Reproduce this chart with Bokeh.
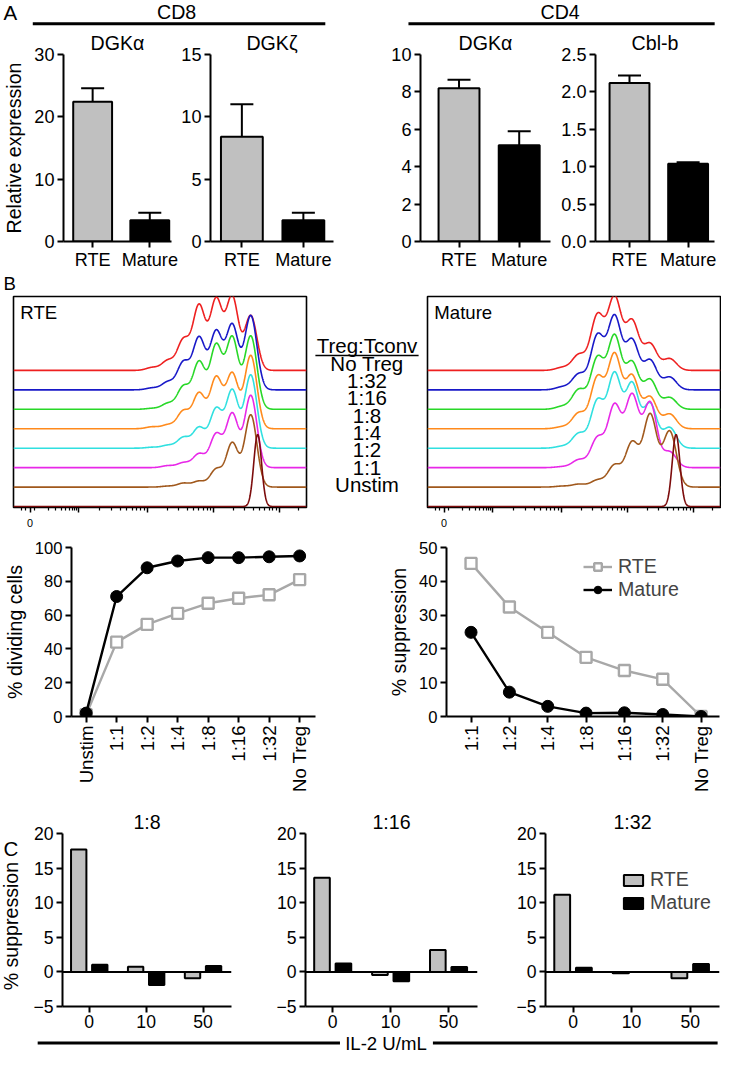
import numpy as np
from bokeh.plotting import figure
from bokeh.layouts import column, row
from bokeh.models import (Range1d, FixedTicker, ColumnDataSource, Whisker, TeeHead,
                          Legend, LegendItem, Span, NumeralTickFormatter)
from bokeh.embed import file_html
from bokeh.resources import INLINE
from bokeh.core.properties import value

# ------------------------------------------------------------------ data
groups = ["RTE", "Mature"]
a_cells = ["CD8", "CD4"]
a_titles = ["DGKα", "DGKζ", "DGKα", "Cbl-b"]
a_mean = [[22.4, 3.4], [8.4, 1.7], [8.2, 5.15], [2.12, 1.04]]
a_sem = [[2.2, 1.2], [2.6, 0.6], [0.45, 0.75], [0.1, 0.02]]
a_yticks = [[0, 10, 20, 30], [0, 5, 10, 15], [0, 2, 4, 6, 8, 10],
            [0.0, 0.5, 1.0, 1.5, 2.0, 2.5]]

hist_rows = ["No Treg", "1:32", "1:16", "1:8", "1:4", "1:2", "1:1", "Unstim"]
hist_header = "Treg:Tconv"
# CFSE division peaks: position (channel) of each division and peak height per row
rte_div_pos = [243, 224, 207.5, 190, 174, 158, 142]
rte_peaks = [
    [56, 75, 72, 66, 31, 10, 3],
    [76, 66, 59, 53, 28, 8, 2],
    [75, 73, 65, 48, 23, 6, 1],
    [75, 56, 52, 36, 18, 4, 2],
    [75, 59, 40, 21, 11, 3, 1],
    [74, 55, 34, 14, 5, 2, 0],
    [74, 45, 18, 6, 4, 1, 0],
]
rte_unstim = [250, 74]
mat_div_pos = [248, 228, 209.5, 191.5, 174, 155, 138]
mat_peaks = [
    [12, 27, 50, 74, 56, 16, 3],
    [13, 30, 50, 74, 55, 16, 3],
    [12, 30, 47, 74, 52, 20, 3],
    [15, 32, 53, 75, 52, 16, 2],
    [21, 45, 65, 75, 48, 15, 2],
    [16, 66, 73, 63, 30, 8, 1],
    [57, 74, 45, 22, 7, 3, 1],
]
mat_unstim = [254.5, 74]

div_ratios = ["Unstim", "1:1", "1:2", "1:4", "1:8", "1:16", "1:32", "No Treg"]
div_rte = [1, 44, 54.5, 61, 67, 70, 72, 81]
div_mature = [2, 71, 88, 92, 94, 94, 94.5, 95]

sup_ratios = ["1:1", "1:2", "1:4", "1:8", "1:16", "1:32", "No Treg"]
sup_rte = [45.3, 32.4, 24.9, 17.5, 13.6, 11.0, 0]
sup_mature = [24.9, 7.2, 3.0, 1.0, 1.1, 0.6, 0]

il2 = ["0", "10", "50"]
il2_title = "IL-2 U/mL"
c_titles = ["1:8", "1:16", "1:32"]
c_rte = [[17.7, 0.75, -0.9], [13.6, -0.45, 3.15], [11.15, -0.2, -0.9]]
c_mature = [[1.05, -1.9, 0.85], [1.2, -1.35, 0.7], [0.6, 0.0, 1.15]]

# ------------------------------------------------------------------ style
FONT = "Liberation Sans"
S = 0.978
GRAY = "#c0c0c0"
LGRAY = "#a8a8a8"
hist_colors = ["#ee2020", "#1818c8", "#28d828", "#ff8a1c", "#30e0e0",
               "#e828e8", "#a0581c", "#7c0c0c"]


def s(v):
    return int(round(v * S))


def fs(v):
    return f"{v * S:.1f}px"


def mkfig(w, h, xr, yr, bl, br, bt, bb, **kw):
    p = figure(width=s(w), height=s(h), x_range=xr, y_range=yr,
               output_backend="svg", toolbar_location=None,
               min_border_left=s(bl), min_border_right=s(br),
               min_border_top=s(bt), min_border_bottom=s(bb), **kw)
    p.grid.visible = False
    p.outline_line_color = None
    return p


def blank(w, h):
    p = figure(width=s(w), height=s(h), x_range=Range1d(0, w), y_range=Range1d(h, 0),
               output_backend="svg", toolbar_location=None,
               x_axis_location=None, y_axis_location=None,
               min_border_left=0, min_border_right=0, min_border_top=0, min_border_bottom=0)
    p.outline_line_color = None
    p.grid.visible = False
    return p


def txt(p, x, y, t, size, align="left", baseline="middle", angle=0.0):
    p.text(x=[x], y=[y], text=[t], text_font=value(FONT), text_font_size=fs(size),
           text_align=align, text_baseline=baseline, angle=angle, text_color="black")


def style_axes(p, tick_fs, lw=2.0):
    for ax in p.axis:
        ax.axis_line_width = lw
        ax.axis_line_color = "black"
        ax.major_tick_line_width = lw
        ax.major_tick_line_color = "black"
        ax.major_tick_in = 0
        ax.major_tick_out = s(6)
        ax.minor_tick_line_color = None
        ax.major_label_text_font = FONT
        ax.major_label_text_font_size = fs(tick_fs)
        ax.major_label_text_color = "black"
        ax.major_label_standoff = s(3)
        ax.axis_label_text_font = FONT
        ax.axis_label_text_font_style = "normal"
        ax.axis_label_text_color = "black"
        ax.axis_label_text_font_size = fs(20)
        ax.axis_label_standoff = s(6)


def set_title(p, t, size=20):
    p.title.text = t
    p.title.align = "center"
    p.title.text_font = FONT
    p.title.text_font_size = fs(size)
    p.title.text_font_style = "normal"
    p.title.text_color = "black"
    p.title.standoff = 1


# ------------------------------------------------------------------ header A
hdrA = blank(738, 30)
txt(hdrA, 3, 12, "A", 21)
txt(hdrA, 180, 12, a_cells[0], 20, align="center")
txt(hdrA, 572, 12, a_cells[1], 20, align="center")
hdrA.segment(x0=[33, 417], y0=[24, 24], x1=[332, 730], y1=[24, 24],
             line_color="black", line_width=3)

# ------------------------------------------------------------------ panel A
a_geom = [(182, 55, 7, 0.51, 0.38), (188, 30, 30, 0.51, 0.49),
          (200, 59, 8, 0.64, 0.52), (168, 33, 8, 0.58, 0.45)]
a_figs = []
for k in range(4):
    w, bl, br, padl, padr = a_geom[k]
    xs = list(range(len(groups)))
    p = mkfig(w, 248, Range1d(-padl, xs[-1] + padr), Range1d(0, a_yticks[k][-1]),
              bl, br, 24, 27)
    p.vbar(x=xs, top=a_mean[k], width=0.68, bottom=0, fill_color=[GRAY, "black"],
           line_color="black", line_width=2)
    src = ColumnDataSource(dict(x=xs, top=a_mean[k],
                                upper=[m + e for m, e in zip(a_mean[k], a_sem[k])]))
    p.add_layout(Whisker(source=src, base="x", lower="top", upper="upper",
                         upper_head=TeeHead(size=s(24), line_width=2, line_color="black"),
                         lower_head=None, line_width=2, line_color="black"))
    style_axes(p, 18.5)
    p.xaxis.major_label_standoff = 2
    p.xaxis.ticker = FixedTicker(ticks=xs)
    p.xaxis.major_label_overrides = {i: g for i, g in enumerate(groups)}
    p.yaxis.ticker = FixedTicker(ticks=a_yticks[k])
    if k == 3:
        p.yaxis.formatter = NumeralTickFormatter(format="0.0")
    if k == 0:
        p.yaxis.axis_label = "Relative expression"
    set_title(p, a_titles[k])
    a_figs.append(p)

# ------------------------------------------------------------------ header B
hdrB = blank(738, 22)
txt(hdrB, 3, 11, "B", 19)

# ------------------------------------------------------------------ panel B histograms
HB_H, HB_BT, HB_BB = 242, 2, 25
H_Y0, H_Y1 = -1, 216
ROW_STEP = 20
hist_major = [17, 67, 137, 205, 272]
hist_minor = [8.7, 12, 22]
for a, b in [(22, 67), (67, 137), (137, 205), (205, 272)]:
    hist_minor += [a + (b - a) * np.log10(k) for k in range(2, 10)]
hist_minor += [272 + 67 * np.log10(2)]


def hist_fig(w, bl, br, pos, peaks, unstim, sigma, sigma_u, label):
    p = mkfig(w, HB_H, Range1d(0, 300), Range1d(H_Y0, H_Y1), bl, br, HB_BT, HB_BB,
              y_axis_location=None)
    p.outline_line_color = "black"
    p.outline_line_width = 1.6
    xg = np.linspace(0, 300, 1201)
    n = len(hist_rows)
    for i in range(n):
        off = ROW_STEP * (n - 1 - i)
        if i < len(peaks):
            y = off + sum(h * np.exp(-0.5 * ((xg - c) / sigma) ** 2)
                          for h, c in zip(peaks[i], pos))
        else:
            y = off + unstim[1] * np.exp(-0.5 * ((xg - unstim[0]) / sigma_u) ** 2)
        p.line(xg, y, line_color=hist_colors[i], line_width=1.6)
    txt(p, 7, 200, label, 19)
    ax = p.xaxis[0]
    ax.ticker = FixedTicker(ticks=hist_major, minor_ticks=hist_minor)
    ax.major_label_overrides = {t: ("0" if t == hist_major[0] else "") for t in hist_major}
    ax.axis_line_color = None
    ax.major_tick_in = 0
    ax.minor_tick_in = 0
    ax.major_tick_out = s(5)
    ax.minor_tick_out = s(3)
    ax.major_tick_line_width = 1.5
    ax.minor_tick_line_width = 1.2
    ax.major_tick_line_color = "black"
    ax.minor_tick_line_color = "black"
    ax.major_label_text_font = FONT
    ax.major_label_text_font_size = fs(11)
    ax.major_label_text_color = "black"
    ax.major_label_standoff = s(6)
    return p


histL = hist_fig(318, 13, 5, rte_div_pos, rte_peaks, rte_unstim, 6.2, 4.0, groups[0])
histR = hist_fig(306, 5, 1, mat_div_pos, mat_peaks, mat_unstim, 6.8, 4.0, groups[1])

# middle legend column, same vertical scale as the histograms
fh = s(HB_H)
fbt, fbb = s(HB_BT), s(HB_BB)
kpx = (H_Y1 - H_Y0) / (fh - fbt - fbb)
mid = figure(width=s(114), height=fh, x_range=Range1d(0, 114),
             y_range=Range1d(H_Y0 - fbb * kpx, H_Y1 + fbt * kpx),
             output_backend="svg", toolbar_location=None,
             x_axis_location=None, y_axis_location=None,
             min_border_left=0, min_border_right=0, min_border_top=0, min_border_bottom=0)
mid.outline_line_color = None
mid.grid.visible = False
n = len(hist_rows)
txt(mid, 57, ROW_STEP * n + 1, hist_header, 21, align="center")
mid.segment(x0=[4], y0=[ROW_STEP * n - 10], x1=[110], y1=[ROW_STEP * n - 10],
            line_color="black", line_width=1.5)
for i, lab in enumerate(hist_rows):
    txt(mid, 57, ROW_STEP * (n - 1 - i) + 1, lab, 21, align="center")

# ------------------------------------------------------------------ panel B line charts
BL_H, BL_BT, BL_BB = 269, 16, 78
lineL = mkfig(360, BL_H, Range1d(-0.48, len(div_ratios) - 1 + 0.52), Range1d(0, 100),
              58, 38, BL_BT, BL_BB)
xs = list(range(len(div_ratios)))
lineL.line(xs, div_rte, line_color=LGRAY, line_width=2.4)
lineL.scatter(xs, div_rte, marker="square", size=s(11), fill_color="white",
              line_color=LGRAY, line_width=2.4)
lineL.line(xs, div_mature, line_color="black", line_width=2.4)
lineL.scatter(xs, div_mature, marker="circle", size=s(12), fill_color="black",
              line_color="black")
style_axes(lineL, 17)
lineL.xaxis.ticker = FixedTicker(ticks=xs)
lineL.xaxis.major_label_overrides = {i: r for i, r in enumerate(div_ratios)}
lineL.xaxis.major_label_orientation = np.pi / 2
lineL.xaxis.major_label_text_font_size = fs(19)
lineL.yaxis.ticker = FixedTicker(ticks=[0, 20, 40, 60, 80, 100])
lineL.yaxis.axis_label = "% dividing cells"

lineR = mkfig(378, BL_H, Range1d(-0.64, len(sup_ratios) - 1 + 0.48), Range1d(0, 50),
              96, 3, BL_BT, BL_BB)
xs2 = list(range(len(sup_ratios)))
r1 = lineR.line(xs2, sup_rte, line_color=LGRAY, line_width=2.4)
r2 = lineR.scatter(xs2, sup_rte, marker="square", size=s(11), fill_color="white",
                   line_color=LGRAY, line_width=2.4)
r3 = lineR.line(xs2, sup_mature, line_color="black", line_width=2.4)
r4 = lineR.scatter(xs2, sup_mature, marker="circle", size=s(12), fill_color="black",
                   line_color="black")
style_axes(lineR, 17)
lineR.xaxis.ticker = FixedTicker(ticks=xs2)
lineR.xaxis.major_label_overrides = {i: r for i, r in enumerate(sup_ratios)}
lineR.xaxis.major_label_orientation = np.pi / 2
lineR.xaxis.major_label_text_font_size = fs(19)
lineR.yaxis.ticker = FixedTicker(ticks=[0, 10, 20, 30, 40, 50])
lineR.yaxis.axis_label = "% suppression"
legB = Legend(items=[LegendItem(label=groups[0], renderers=[r1, r2]),
                     LegendItem(label=groups[1], renderers=[r3, r4])],
              location=(s(140), s(118)), glyph_width=s(30), glyph_height=s(19),
              label_height=s(19), spacing=0, padding=0, margin=0,
              label_standoff=s(6), border_line_color=None, background_fill_alpha=0,
              label_text_font=FONT, label_text_font_size=fs(20))
lineR.add_layout(legB)

# ------------------------------------------------------------------ panel C
C_H, C_BT, C_BB = 241, 40, 23
cstrip = blank(31, C_H)
txt(cstrip, 3, 21, "C", 21)
txt(cstrip, 11, 129, "% suppression", 20, align="center", angle=np.pi / 2)

c_geom = [(219, 31, 13), (245, 62, 7), (243, 62, 3)]
c_figs = []
for k in range(3):
    w, bl, br = c_geom[k]
    xs3 = np.arange(len(il2))
    p = mkfig(w, C_H, Range1d(-0.47, len(il2) - 1 + 0.5), Range1d(-5, 20), bl, br, C_BT, C_BB)
    rr = p.vbar(x=xs3 - 0.185, top=c_rte[k], bottom=0, width=0.27, fill_color=GRAY,
                line_color="black", line_width=2)
    rm = p.vbar(x=xs3 + 0.185, top=c_mature[k], bottom=0, width=0.27, fill_color="black",
                line_color="black", line_width=2)
    p.add_layout(Span(location=0, dimension="width", line_color="black", line_width=2))
    style_axes(p, 18)
    p.xaxis.major_label_standoff = 2
    p.xaxis.ticker = FixedTicker(ticks=list(xs3))
    p.xaxis.major_label_overrides = {int(i): v for i, v in enumerate(il2)}
    p.yaxis.ticker = FixedTicker(ticks=[-5, 0, 5, 10, 15, 20])
    set_title(p, c_titles[k])
    if k == 2:
        legC = Legend(items=[LegendItem(label=groups[0], renderers=[rr]),
                             LegendItem(label=groups[1], renderers=[rm])],
                      location=(s(78), s(94)), glyph_width=s(25), glyph_height=s(14),
                      label_height=s(23), spacing=0, padding=0, margin=0,
                      label_standoff=s(5), border_line_color=None, background_fill_alpha=0,
                      label_text_font=FONT, label_text_font_size=fs(20))
        p.add_layout(legC)
    c_figs.append(p)

# ------------------------------------------------------------------ footer
footer = blank(738, 27)
footer.segment(x0=[38, 442], y0=[13, 13], x1=[347, 733], y1=[13, 13],
               line_color="black", line_width=3)
txt(footer, 394, 13, il2_title, 19, align="center")

layout = column(
    hdrA,
    row(*a_figs),
    hdrB,
    row(histL, mid, histR),
    row(lineL, lineR),
    row(cstrip, *c_figs),
    footer,
)

open("out.html", "w").write(file_html(layout, INLINE))
